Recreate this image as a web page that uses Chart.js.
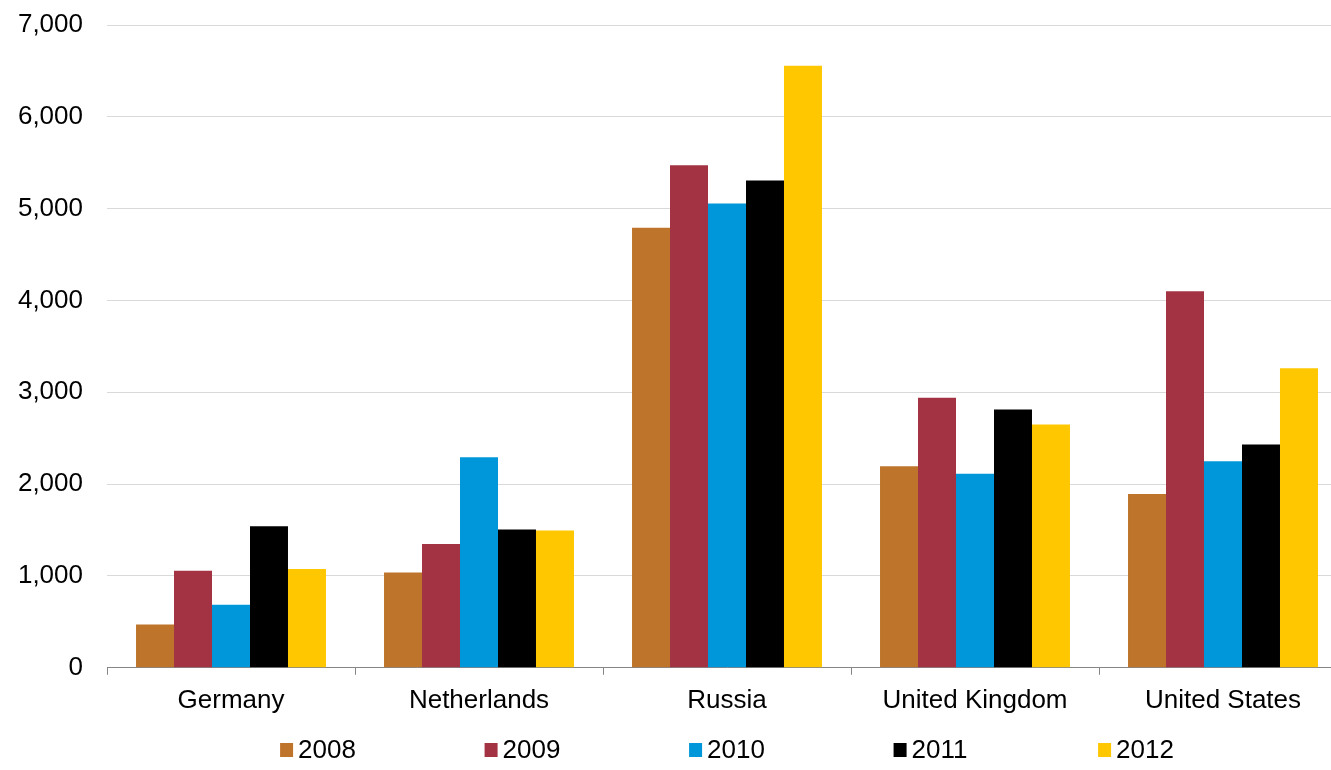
<!DOCTYPE html>
<html><head><meta charset="utf-8">
<script src="https://cdn.jsdelivr.net/npm/chart.js@4.4.1/dist/chart.umd.min.js"></script>
<style>html,body{margin:0;padding:0;overflow:hidden;background:#fff}#wrap{width:1347px;height:770px;position:relative}</style>
</head><body><div id="wrap"><canvas id="c"></canvas></div>
<script>
const categories = ['Germany', 'Netherlands', 'Russia', 'United Kingdom', 'United States'];
const years = ['2008', '2009', '2010', '2011', '2012'];
const v2008 = [472, 1039, 4791, 2195, 1894];
const v2009 = [1058, 1349, 5474, 2941, 4100];
const v2010 = [687, 2293, 5057, 2113, 2250];
const v2011 = [1541, 1505, 5307, 2813, 2432];
const v2012 = [1076, 1494, 6557, 2650, 3261];
const seriesValues = [v2008, v2009, v2010, v2011, v2012];
const yTicks = [0, 1000, 2000, 3000, 4000, 5000, 6000, 7000];
const colors = ['#BE752B', '#A33343', '#0097DA', '#000000', '#FFC700'];
const FONT = '"Liberation Sans", Arial, sans-serif';

const legendPlugin = {
  id: 'customLegend',
  afterDraw(chart) {
    const ctx = chart.ctx;
    const area = chart.chartArea;
    const step = 204.5, box = 13, gap = 5;
    ctx.save();
    ctx.font = '26px ' + FONT;
    const ds = chart.data.datasets;
    const lastW = box + gap + ctx.measureText(ds[ds.length - 1].label).width;
    const total = step * (ds.length - 1) + lastW;
    let x = (area.left + area.right) / 2 - total / 2;
    const cy = 750;
    ctx.textBaseline = 'middle';
    ctx.textAlign = 'left';
    ds.forEach((d) => {
      ctx.fillStyle = d.backgroundColor;
      ctx.fillRect(x, cy - 7, box, 14);
      ctx.fillStyle = '#000';
      ctx.fillText(d.label, x + box + gap, cy + 1);
      x += step;
    });
    ctx.restore();
  }
};

new Chart(document.getElementById('c'), {
  type: 'bar',
  data: {
    labels: categories,
    datasets: years.map((y, i) => ({
      label: y,
      data: seriesValues[i],
      backgroundColor: colors[i],
      borderWidth: 0,
      categoryPercentage: 0.766,
      barPercentage: 1.0
    }))
  },
  options: {
    responsive: true,
    maintainAspectRatio: false,
    animation: false,
    layout: { padding: { left: 18, right: 0, top: 25, bottom: 44 } },
    plugins: { legend: { display: false }, tooltip: { enabled: false } },
    scales: {
      x: {
        grid: { display: true, drawOnChartArea: false, drawTicks: true, tickLength: 7, color: '#868686', offset: true },
        border: { display: true, color: '#868686', width: 1 },
        ticks: { color: '#000', font: { family: FONT, size: 26 }, padding: 10, maxRotation: 0 }
      },
      y: {
        min: 0, max: 7000,
        afterBuildTicks(axis) { axis.ticks = yTicks.map(v => ({ value: v })); },
        afterFit(axis) { axis.width = 89; axis.paddingTop = 0; axis.paddingBottom = 0; },
        grid: { color: '#D9D9D9', lineWidth: 1, drawTicks: false },
        border: { display: false },
        ticks: {
          color: '#000', font: { family: FONT, size: 26 }, padding: 24,
          callback: (v) => v.toLocaleString('en-US')
        }
      }
    }
  },
  plugins: [legendPlugin]
});
</script></body></html>
